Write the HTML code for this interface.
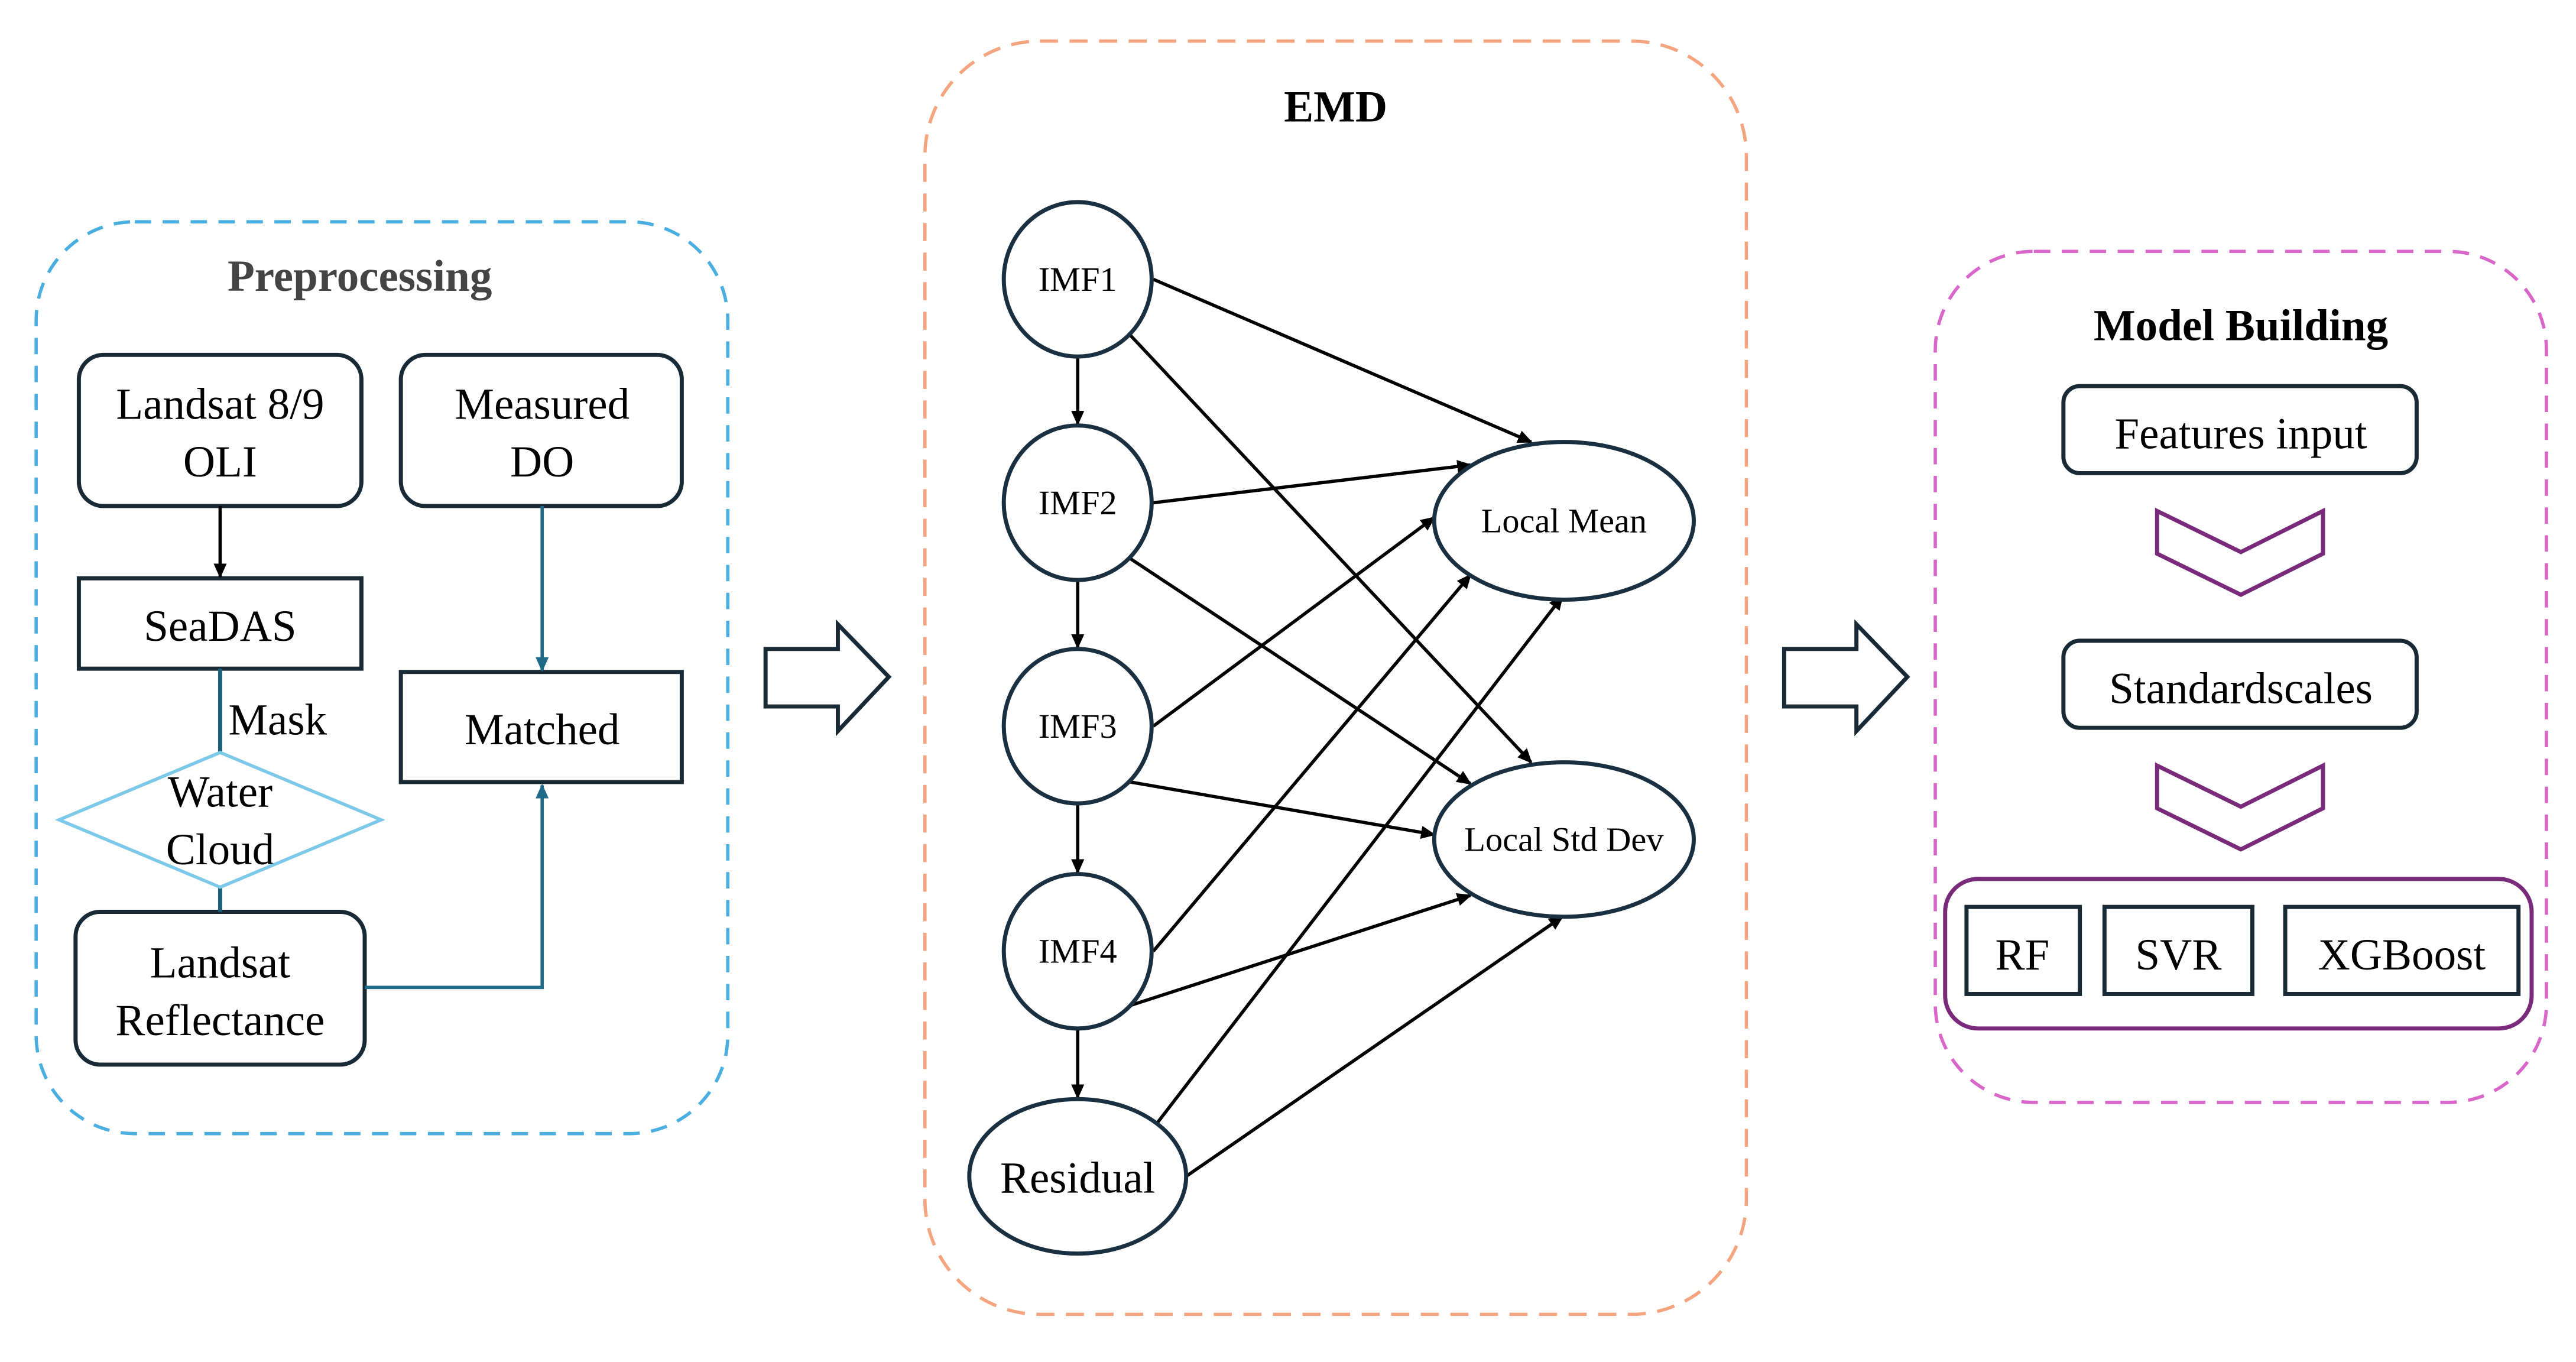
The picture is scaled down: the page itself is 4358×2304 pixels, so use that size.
<!DOCTYPE html>
<html><head><meta charset="utf-8"><style>
html,body{margin:0;padding:0;background:#fff}
svg{display:block}
svg text{font-family:"Liberation Serif","DejaVu Serif",serif}
</style></head><body>
<svg width="4358" height="2304" viewBox="0 0 1568 829" preserveAspectRatio="none" xmlns="http://www.w3.org/2000/svg" font-family="'Liberation Serif', 'DejaVu Serif', serif">
<defs>
<marker id="ab" markerWidth="10" markerHeight="10" refX="8" refY="5" orient="auto" markerUnits="userSpaceOnUse"><path d="M0,1 L9,5 L0,9 z" fill="#000"/></marker>
<marker id="at" markerWidth="10" markerHeight="10" refX="8" refY="5" orient="auto" markerUnits="userSpaceOnUse"><path d="M0,1 L9,5 L0,9 z" fill="#1f6a88"/></marker>
</defs>
<rect x="22" y="135" width="421" height="555" rx="60" fill="none" stroke="#4aaee0" stroke-width="2" stroke-dasharray="10,7"/>
<text x="219" y="177" font-size="27" font-weight="bold" fill="#444" text-anchor="middle">Preprocessing</text>
<g fill="none" stroke="#1a2a35" stroke-width="2.5">
<rect x="48" y="216" width="172" height="92" rx="15"/>
<rect x="244" y="216" width="171" height="92" rx="15"/>
<rect x="48" y="352" width="172" height="55"/>
<rect x="244" y="409" width="171" height="67"/>
<rect x="46" y="555" width="176" height="93" rx="15"/>
</g>
<g font-size="27" text-anchor="middle" fill="#000">
<text x="134" y="255">Landsat 8/9</text><text x="134" y="290">OLI</text>
<text x="330" y="255">Measured</text><text x="330" y="290">DO</text>
<text x="134" y="390">SeaDAS</text>
<text x="330" y="453">Matched</text>
<text x="134" y="595">Landsat</text><text x="134" y="630">Reflectance</text>
<text x="134" y="491">Water</text><text x="134" y="526">Cloud</text>
</g>
<text x="139" y="447" font-size="27" fill="#000">Mask</text>
<line x1="134" y1="308" x2="134" y2="351" stroke="#000" stroke-width="2" marker-end="url(#ab)"/>
<line x1="134" y1="407" x2="134" y2="458" stroke="#1f5f7a" stroke-width="2.5"/>
<line x1="134" y1="540" x2="134" y2="555" stroke="#1f5f7a" stroke-width="2.5"/>
<polygon points="134,458 232,499 134,540 36,499" fill="none" stroke="#7cc8e8" stroke-width="2"/>
<line x1="330" y1="308" x2="330" y2="408" stroke="#1f6a88" stroke-width="2" marker-end="url(#at)"/>
<polyline points="222,601 330,601 330,478" fill="none" stroke="#1f6a88" stroke-width="2" marker-end="url(#at)"/>
<polygon points="466,395 510,395 510,380 541,412 510,445 510,430 466,430" fill="none" stroke="#1a2a35" stroke-width="2.5"/>
<polygon points="1086,395 1130,395 1130,380 1161,412 1130,445 1130,430 1086,430" fill="none" stroke="#1a2a35" stroke-width="2.5"/>
<rect x="563" y="25" width="500" height="775" rx="70" fill="none" stroke="#f4a57f" stroke-width="2" stroke-dasharray="11,7"/>
<text x="813" y="74" font-size="27" font-weight="bold" fill="#000" text-anchor="middle">EMD</text>
<g stroke="#000" stroke-width="2" marker-end="url(#ab)">
<line x1="656" y1="217" x2="656" y2="258"/>
<line x1="656" y1="353" x2="656" y2="394"/>
<line x1="656" y1="489" x2="656" y2="531"/>
<line x1="656" y1="626" x2="656" y2="668"/>
<line x1="702" y1="170" x2="932" y2="269"/>
<line x1="688" y1="204" x2="932" y2="464"/>
<line x1="702" y1="306" x2="895" y2="283"/>
<line x1="688" y1="340" x2="895" y2="477"/>
<line x1="702" y1="442" x2="873" y2="315"/>
<line x1="688" y1="476" x2="873" y2="508"/>
<line x1="702" y1="579" x2="895" y2="350"/>
<line x1="688" y1="612" x2="895" y2="545"/>
<line x1="704" y1="684" x2="951" y2="363"/>
<line x1="722" y1="716" x2="951" y2="558"/>
</g>
<g fill="#fff" stroke="#1a3040" stroke-width="2.5">
<ellipse cx="656" cy="170" rx="45" ry="47"/>
<ellipse cx="656" cy="306" rx="45" ry="47"/>
<ellipse cx="656" cy="442" rx="45" ry="47"/>
<ellipse cx="656" cy="579" rx="45" ry="47"/>
<ellipse cx="656" cy="716" rx="66" ry="47"/>
<ellipse cx="952" cy="317" rx="79" ry="48"/>
<ellipse cx="952" cy="511" rx="79" ry="47"/>
</g>
<g font-size="21" text-anchor="middle" fill="#000">
<text x="656" y="177">IMF1</text>
<text x="656" y="313">IMF2</text>
<text x="656" y="449">IMF3</text>
<text x="656" y="586">IMF4</text>
<text x="952" y="324">Local Mean</text>
<text x="952" y="518">Local Std Dev</text>
<text x="656" y="726" font-size="27">Residual</text>
</g>
<rect x="1178" y="153" width="372" height="518" rx="60" fill="none" stroke="#d966c9" stroke-width="2" stroke-dasharray="10,7"/>
<text x="1364" y="207" font-size="27" font-weight="bold" fill="#000" text-anchor="middle">Model Building</text>
<g fill="none" stroke="#1a2a35" stroke-width="2.5">
<rect x="1256" y="235" width="215" height="53" rx="10"/>
<rect x="1256" y="390" width="215" height="53" rx="10"/>
<rect x="1197" y="552" width="69" height="53"/>
<rect x="1281" y="552" width="90" height="53"/>
<rect x="1391" y="552" width="142" height="53"/>
</g>
<rect x="1184" y="535" width="357" height="91" rx="20" fill="none" stroke="#7a2a7a" stroke-width="2.5"/>
<polygon points="1313,311 1364,336 1414,311 1414,337 1364,362 1313,337" fill="none" stroke="#7a2a7a" stroke-width="2.5"/>
<polygon points="1313,466 1364,491 1414,466 1414,492 1364,517 1313,492" fill="none" stroke="#7a2a7a" stroke-width="2.5"/>
<g font-size="27" text-anchor="middle" fill="#000">
<text x="1364" y="273">Features input</text>
<text x="1364" y="428">Standardscales</text>
<text x="1231" y="590">RF</text>
<text x="1326" y="590">SVR</text>
<text x="1462" y="590">XGBoost</text>
</g>
</svg>
</body></html>
